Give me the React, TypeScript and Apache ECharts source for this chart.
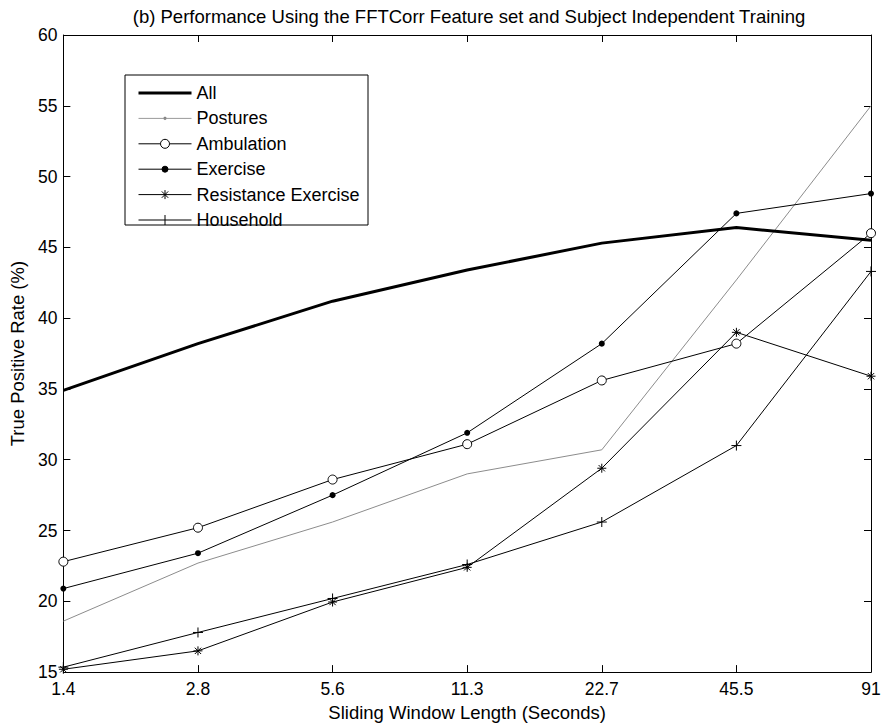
import React, { useEffect, useRef } from "react";
import * as echarts from "echarts";

const categories = ["1.4", "2.8", "5.6", "11.3", "22.7", "45.5", "91"];
const allValues = [34.9, 38.2, 41.2, 43.4, 45.3, 46.4, 45.5];
const posturesValues = [18.6, 22.7, 25.6, 29.0, 30.7, 42.7, 55.0];
const ambulationValues = [22.8, 25.2, 28.6, 31.1, 35.6, 38.2, 46.0];
const exerciseValues = [20.9, 23.4, 27.5, 31.9, 38.2, 47.4, 48.8];
const resistanceValues = [15.2, 16.5, 19.95, 22.4, 29.4, 39.0, 35.9];
const householdValues = [15.35, 17.8, 20.2, 22.6, 25.6, 31.0, 43.3];
const seriesNames = ["All", "Postures", "Ambulation", "Exercise", "Resistance Exercise", "Household"];
const yTicks = { min: 15, max: 60, interval: 5 };

const FONT = "'Liberation Sans', Arial, sans-serif";
const ASTERISK = "path://M5,0L5,10M0,5L10,5M1.5,1.5L8.5,8.5M1.5,8.5L8.5,1.5";
const PLUS = "path://M5,0L5,10M0,5L10,5";

// legend icons: 53 x 12 box, line through the middle plus the marker
const BOX = "M0,0M53,12";
const legendIcons: Record<string, { icon: string; itemStyle: any }> = {
  All: {
    icon: "path://" + BOX + "M0,6L53,6",
    itemStyle: { color: "#000", borderColor: "#000", borderWidth: 3, opacity: 1 },
  },
  Postures: {
    icon: "path://" + BOX + "M0,6L53,6M27.8,6A1.3,1.3 0 1 1 25.2,6A1.3,1.3 0 1 1 27.8,6",
    itemStyle: { color: "#000", borderColor: "#9a9a9a", borderWidth: 1, opacity: 1 },
  },
  Ambulation: {
    icon: "path://" + BOX + "M0,6L22,6M31,6L53,6M31,6A4.5,4.5 0 1 1 22,6A4.5,4.5 0 1 1 31,6",
    itemStyle: { color: "#fff", borderColor: "#000", borderWidth: 1, opacity: 1 },
  },
  Exercise: {
    icon: "path://" + BOX + "M0,6L53,6M29.5,6A3,3 0 1 1 23.5,6A3,3 0 1 1 29.5,6",
    itemStyle: { color: "#000", borderColor: "#000", borderWidth: 1, opacity: 1 },
  },
  "Resistance Exercise": {
    icon: "path://" + BOX + "M0,6L53,6M26.5,1.5L26.5,10.5M23.3,2.8L29.7,9.2M23.3,9.2L29.7,2.8",
    itemStyle: { color: "#000", borderColor: "#000", borderWidth: 1, opacity: 1 },
  },
  Household: {
    icon: "path://" + BOX + "M0,6L53,6M26.5,1L26.5,11",
    itemStyle: { color: "#000", borderColor: "#000", borderWidth: 1, opacity: 1 },
  },
};

export default function App() {
  const ref = useRef<HTMLDivElement>(null);
  useEffect(() => {
    if (!ref.current) return;
    const chart = echarts.init(ref.current, null, { renderer: "svg" });
    const base = {
      type: "line",
      xAxisIndex: 0,
      yAxisIndex: 0,
      emphasis: { disabled: true },
      silent: true,
    };
    const option = {
      animation: false,
      backgroundColor: "#fff",
      title: {
        text: "(b) Performance Using the FFTCorr Feature set and Subject Independent Training",
        left: 469,
        textAlign: "center",
        top: 7,
        padding: 0,
        textStyle: { fontFamily: FONT, fontSize: 18.5, fontWeight: "normal", color: "#000" },
      },
      grid: { left: 63, right: 13, top: 35, bottom: 52 },
      xAxis: [
        {
          type: "category",
          data: categories,
          boundaryGap: false,
          position: "bottom",
          name: "Sliding Window Length (Seconds)",
          nameLocation: "middle",
          nameGap: 29,
          nameTextStyle: { fontFamily: FONT, fontSize: 18.5, color: "#000" },
          axisLine: { lineStyle: { color: "#000", width: 1 } },
          axisTick: { inside: true, length: 7, lineStyle: { color: "#000" } },
          axisLabel: { fontFamily: FONT, fontSize: 17.5, color: "#000", margin: 8 },
          splitLine: { show: false },
        },
        {
          type: "category",
          data: categories,
          boundaryGap: false,
          position: "top",
          axisLine: { lineStyle: { color: "#000", width: 1 } },
          axisTick: { inside: true, length: 7, lineStyle: { color: "#000" } },
          axisLabel: { show: false },
          splitLine: { show: false },
        },
      ],
      yAxis: [
        {
          type: "value",
          min: yTicks.min,
          max: yTicks.max,
          interval: yTicks.interval,
          position: "left",
          name: "True Positive Rate (%)",
          nameLocation: "middle",
          nameGap: 36,
          nameTextStyle: { fontFamily: FONT, fontSize: 18.5, color: "#000" },
          axisLine: { show: true, lineStyle: { color: "#000", width: 1 } },
          axisTick: { show: true, inside: true, length: 7, lineStyle: { color: "#000" } },
          axisLabel: { fontFamily: FONT, fontSize: 17.5, color: "#000", margin: 6 },
          splitLine: { show: false },
        },
        {
          type: "value",
          min: yTicks.min,
          max: yTicks.max,
          interval: yTicks.interval,
          position: "right",
          axisLine: { show: true, lineStyle: { color: "#000", width: 1 } },
          axisTick: { show: true, inside: true, length: 7, lineStyle: { color: "#000" } },
          axisLabel: { show: false },
          splitLine: { show: false },
        },
      ],
      legend: {
        orient: "vertical",
        left: 137,
        top: 83,
        padding: 0,
        itemWidth: 53,
        itemHeight: 12,
        itemGap: 5.4,
        z: 10,
        textStyle: { fontFamily: FONT, fontSize: 18, color: "#000", lineHeight: 20 },
        data: seriesNames.map((n) => ({ name: n, icon: legendIcons[n].icon, itemStyle: legendIcons[n].itemStyle })),
      },
      graphic: [
        {
          type: "rect",
          z: 8,
          shape: { x: 125, y: 75, width: 243, height: 150 },
          style: { fill: "#fff", stroke: "#000", lineWidth: 1 },
        },
      ],
      series: [
        {
          ...base,
          name: seriesNames[0],
          data: allValues,
          symbol: "none",
          lineStyle: { color: "#000", width: 3 },
          itemStyle: { color: "#000" },
          z: 5,
        },
        {
          ...base,
          name: seriesNames[1],
          data: posturesValues,
          symbol: "none",
          lineStyle: { color: "#8c8c8c", width: 1 },
          itemStyle: { color: "#000" },
        },
        {
          ...base,
          name: seriesNames[2],
          data: ambulationValues,
          symbol: "circle",
          symbolSize: 9,
          lineStyle: { color: "#000", width: 1 },
          itemStyle: { color: "#fff", borderColor: "#000", borderWidth: 1 },
        },
        {
          ...base,
          name: seriesNames[3],
          data: exerciseValues,
          symbol: "circle",
          symbolSize: 6,
          lineStyle: { color: "#000", width: 1 },
          itemStyle: { color: "#000" },
        },
        {
          ...base,
          name: seriesNames[4],
          data: resistanceValues,
          symbol: ASTERISK,
          symbolSize: 9,
          lineStyle: { color: "#000", width: 1 },
          itemStyle: { color: "#000", borderColor: "#000", borderWidth: 1 },
        },
        {
          ...base,
          name: seriesNames[5],
          data: householdValues,
          symbol: PLUS,
          symbolSize: 10,
          lineStyle: { color: "#000", width: 1 },
          itemStyle: { color: "#000", borderColor: "#000", borderWidth: 1 },
        },
      ],
    };
    chart.setOption(option as any);
    return () => chart.dispose();
  }, []);
  return <div ref={ref} style={{ width: 884, height: 727, position: "absolute", left: 0, top: 0 }} />;
}
